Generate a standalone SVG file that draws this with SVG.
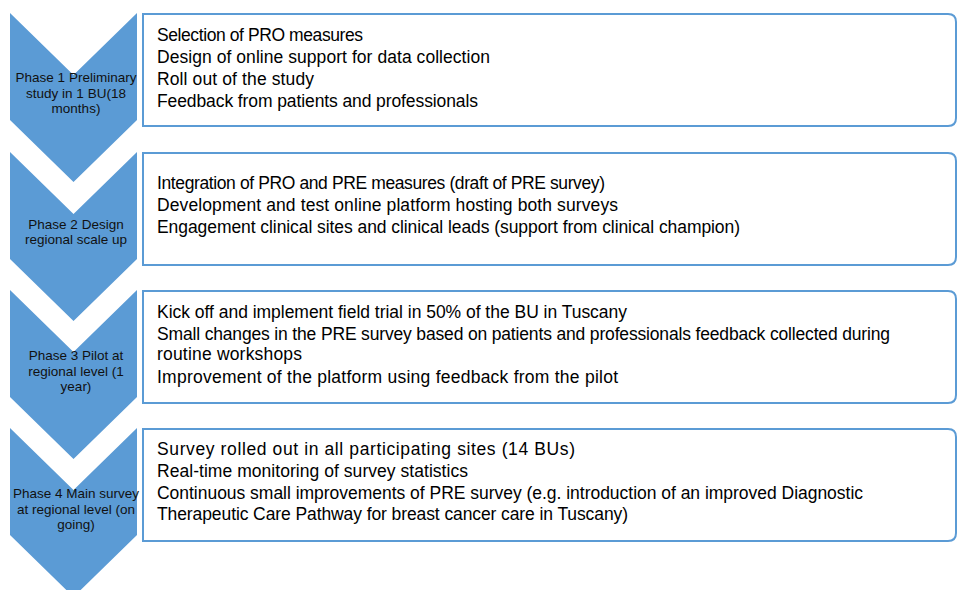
<svg xmlns="http://www.w3.org/2000/svg" width="957" height="590" viewBox="0 0 957 590">
<style>
.chev{fill:#5B9BD5;stroke:none}
.box{fill:#FFFFFF;stroke:#5B9BD5;stroke-width:2}
.ct{font-family:"Liberation Sans",Arial,sans-serif;font-size:13.5px;fill:#111;text-anchor:middle}
.bt{font-family:"Liberation Sans",Arial,sans-serif;font-size:17.5px;fill:#000}
</style>
<rect width="957" height="590" fill="#FFFFFF"/>
<g id="phase1">
<polygon class="chev" points="10,13 73.5,75 137,13 137,120 73.5,182 10,120"/>
<text class="ct"><tspan x="76" y="82">Phase 1 Preliminary</tspan><tspan x="76" y="98">study in 1 BU(18</tspan><tspan x="76" y="113">months)</tspan></text>
</g>
<g id="box1">
<path class="box" d="M143,14 H948 Q956,14 956,22 V118 Q956,126 948,126 H143 Z"/>
<text class="bt" x="157" y="41" textLength="206" lengthAdjust="spacing">Selection of PRO measures</text>
<text class="bt" x="157" y="63" textLength="333" lengthAdjust="spacing">Design of online support for data collection</text>
<text class="bt" x="157" y="85" textLength="157" lengthAdjust="spacing">Roll out of the study</text>
<text class="bt" x="157" y="107" textLength="321" lengthAdjust="spacing">Feedback from patients and professionals</text>
</g>
<g id="phase2">
<polygon class="chev" points="10,152 73.5,214 137,152 137,259 73.5,321 10,259"/>
<text class="ct"><tspan x="76" y="229">Phase 2 Design</tspan><tspan x="76" y="244">regional scale up</tspan></text>
</g>
<g id="box2">
<path class="box" d="M143,153 H948 Q956,153 956,161 V257 Q956,265 948,265 H143 Z"/>
<text class="bt" x="157" y="189" textLength="448" lengthAdjust="spacing">Integration of PRO and PRE measures (draft of PRE survey)</text>
<text class="bt" x="157" y="211" textLength="461" lengthAdjust="spacing">Development and test online platform hosting both surveys</text>
<text class="bt" x="157" y="233" textLength="583" lengthAdjust="spacing">Engagement clinical sites and clinical leads (support from clinical champion)</text>
</g>
<g id="phase3">
<polygon class="chev" points="10,290 73.5,352 137,290 137,397 73.5,459 10,397"/>
<text class="ct"><tspan x="76" y="360">Phase 3 Pilot at</tspan><tspan x="76" y="376">regional level (1</tspan><tspan x="76" y="391">year)</tspan></text>
</g>
<g id="box3">
<path class="box" d="M143,291 H948 Q956,291 956,299 V395 Q956,403 948,403 H143 Z"/>
<text class="bt" x="157" y="318" textLength="470" lengthAdjust="spacing">Kick off and implement field trial in 50% of the BU in Tuscany</text>
<text class="bt" x="157" y="340" textLength="733" lengthAdjust="spacing">Small changes in the PRE survey based on patients and professionals feedback collected during</text>
<text class="bt" x="157" y="360" textLength="145" lengthAdjust="spacing">routine workshops</text>
<text class="bt" x="157" y="383" textLength="461" lengthAdjust="spacing">Improvement of the platform using feedback from the pilot</text>
</g>
<g id="phase4">
<polygon class="chev" points="10,428 73.5,490 137,428 137,535 73.5,597 10,535"/>
<text class="ct"><tspan x="76" y="498">Phase 4 Main survey</tspan><tspan x="76" y="514">at regional level (on</tspan><tspan x="76" y="529">going)</tspan></text>
</g>
<g id="box4">
<path class="box" d="M143,429 H948 Q956,429 956,437 V533 Q956,541 948,541 H143 Z"/>
<text class="bt" x="157" y="455" textLength="418" lengthAdjust="spacing">Survey rolled out in all participating sites (14 BUs)</text>
<text class="bt" x="157" y="477" textLength="311" lengthAdjust="spacing">Real-time monitoring of survey statistics</text>
<text class="bt" x="157" y="499" textLength="706" lengthAdjust="spacing">Continuous small improvements of PRE survey (e.g. introduction of an improved Diagnostic</text>
<text class="bt" x="157" y="520" textLength="471" lengthAdjust="spacing">Therapeutic Care Pathway for breast cancer care in Tuscany)</text>
</g>
<g id="connectors"></g>
</svg>
